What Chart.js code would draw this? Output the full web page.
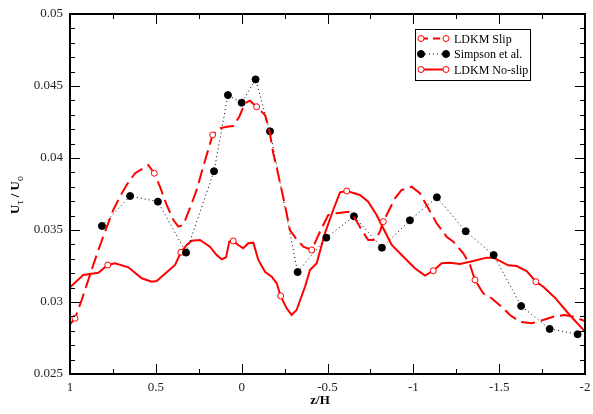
<!DOCTYPE html>
<html>
<head>
<meta charset="utf-8">
<script src="https://cdn.jsdelivr.net/npm/chart.js@4.4.1/dist/chart.umd.min.js"></script>
<style>
  html, body { margin: 0; padding: 0; background: #fff; }
  #wrap { width: 593px; height: 414px; }
</style>
</head>
<body>
<div id="wrap"><canvas id="chart" width="593" height="414"></canvas></div>
<script>
// LDKM slip wall model (dashed)
const slipZ = [1.0, 0.971, 0.932, 0.874, 0.835, 0.796, 0.748, 0.709, 0.670, 0.621, 0.544, 0.509, 0.476, 0.437, 0.398, 0.369, 0.340, 0.301, 0.262, 0.224, 0.195, 0.169, 0.126, 0.087, 0.049, 0.014, -0.019, -0.048, -0.087, -0.136, -0.161, -0.184, -0.207, -0.233, -0.262, -0.281, -0.316, -0.359, -0.408, -0.456, -0.504, -0.553, -0.621, -0.660, -0.699, -0.737, -0.776, -0.805, -0.825, -0.854, -0.893, -0.932, -0.990, -1.038, -1.087, -1.136, -1.194, -1.233, -1.291, -1.330, -1.359, -1.407, -1.456, -1.514, -1.563, -1.621, -1.689, -1.737, -1.815, -1.883, -1.931, -2.0];
const slipU = [0.02845, 0.02887, 0.03014, 0.03222, 0.03361, 0.03488, 0.03639, 0.03731, 0.03813, 0.03894, 0.03951, 0.03894, 0.03801, 0.03674, 0.03569, 0.03523, 0.03535, 0.03653, 0.03778, 0.03940, 0.04056, 0.04160, 0.04206, 0.04217, 0.04222, 0.04287, 0.04380, 0.04398, 0.04356, 0.04299, 0.04194, 0.04033, 0.03917, 0.03778, 0.03616, 0.03500, 0.03442, 0.03384, 0.03361, 0.03488, 0.03604, 0.03616, 0.03627, 0.03581, 0.03500, 0.03431, 0.03431, 0.03488, 0.03558, 0.03627, 0.03720, 0.03778, 0.03801, 0.03755, 0.03651, 0.03547, 0.03453, 0.03419, 0.03338, 0.03257, 0.03153, 0.03060, 0.03026, 0.02967, 0.02910, 0.02863, 0.02852, 0.02868, 0.02898, 0.02910, 0.02898, 0.02868];
const slipMarkZ = [0.971, 0.509, 0.169, -0.087, -0.408, -0.825, -1.359];

// Simpson et al. experiment
const simpsonZ = [0.814, 0.650, 0.488, 0.324, 0.161, 0.080, 0.0, -0.081, -0.165, -0.326, -0.493, -0.654, -0.817, -0.980, -1.137, -1.305, -1.468, -1.628, -1.794, -1.957];
const simpsonU = [0.03528, 0.03736, 0.03697, 0.03343, 0.03908, 0.04437, 0.04384, 0.04546, 0.04185, 0.03208, 0.03447, 0.03595, 0.03377, 0.03567, 0.03727, 0.03491, 0.03326, 0.02972, 0.02813, 0.02776];

// LDKM no-slip wall model (solid)
const noSlipZ = [1.0, 0.923, 0.835, 0.780, 0.738, 0.660, 0.582, 0.524, 0.495, 0.388, 0.354, 0.320, 0.291, 0.243, 0.185, 0.146, 0.116, 0.091, 0.072, 0.049, 0.020, -0.009, -0.038, -0.068, -0.097, -0.136, -0.175, -0.204, -0.227, -0.262, -0.291, -0.320, -0.369, -0.398, -0.437, -0.485, -0.533, -0.573, -0.612, -0.689, -0.737, -0.786, -0.835, -0.874, -0.961, -1.009, -1.068, -1.116, -1.165, -1.213, -1.271, -1.349, -1.427, -1.465, -1.504, -1.553, -1.602, -1.660, -1.714, -1.757, -1.825, -1.902, -2.0];
const noSlipU = [0.03102, 0.03188, 0.03203, 0.03257, 0.03269, 0.03241, 0.03165, 0.03141, 0.03146, 0.03257, 0.03345, 0.03396, 0.03426, 0.03431, 0.03384, 0.03326, 0.03297, 0.03310, 0.03419, 0.03424, 0.03396, 0.03373, 0.03408, 0.03412, 0.03292, 0.03210, 0.03176, 0.03130, 0.03042, 0.02956, 0.02910, 0.02944, 0.03106, 0.03222, 0.03269, 0.03477, 0.03639, 0.03762, 0.03771, 0.03743, 0.03697, 0.03604, 0.03488, 0.03396, 0.03292, 0.03234, 0.03183, 0.03217, 0.03269, 0.03273, 0.03264, 0.03285, 0.03308, 0.03308, 0.03285, 0.03255, 0.03250, 0.03215, 0.03141, 0.03106, 0.03030, 0.02922, 0.02794];
const noSlipMarkZ = [0.780, 0.354, 0.049, -0.227, -0.612, -1.116, -1.714];

const xTicks = [1, 0.5, 0, -0.5, -1, -1.5, -2];
const yTicks = [0.025, 0.03, 0.035, 0.04, 0.045, 0.05];

const RED = '#ff0000';
const SERIF = '"Liberation Serif", "DejaVu Serif", serif';

function toPoints(xs, ys) {
    return xs.map((x, i) => ({ x: x, y: ys[i] }));
}

function markRadius(marks, r) {
    return function(ctx) {
        const p = ctx.raw;
        return p && marks.includes(p.x) ? r : 0;
    };
}

// frame, inward ticks (major + minor) on all four sides, axis titles and legend box
const decorPlugin = {
    id: 'decor',
    afterDraw(chart) {
        const ctx = chart.ctx;
        const a = chart.chartArea;
        const xs = chart.scales.x, ys = chart.scales.y;
        ctx.save();
        ctx.strokeStyle = '#000';
        ctx.lineWidth = 1;
        ctx.setLineDash([]);

        for (let i = 0; i <= 12; i++) {
            const v = -2 + i * 0.25;
            const px = Math.round(xs.getPixelForValue(v)) + 0.5;
            const len = (i % 2 === 0) ? 10 : 5;
            ctx.beginPath();
            ctx.moveTo(px, a.bottom); ctx.lineTo(px, a.bottom - len);
            ctx.moveTo(px, a.top); ctx.lineTo(px, a.top + len);
            ctx.stroke();
        }
        for (let i = 0; i <= 25; i++) {
            const v = 0.025 + i * 0.001;
            const py = Math.round(ys.getPixelForValue(v)) + 0.5;
            const len = (i % 5 === 0) ? 10 : 5;
            ctx.beginPath();
            ctx.moveTo(a.left, py); ctx.lineTo(a.left + len, py);
            ctx.moveTo(a.right, py); ctx.lineTo(a.right - len, py);
            ctx.stroke();
        }

        ctx.lineWidth = 2;
        ctx.strokeRect(a.left, a.top, a.right - a.left, a.bottom - a.top);

        // x title
        ctx.fillStyle = '#000';
        ctx.font = 'bold 13px ' + SERIF;
        ctx.textAlign = 'center';
        ctx.textBaseline = 'alphabetic';
        ctx.fillText('z/H', 320, 404);

        // y title: U_tau / U_o, rotated
        ctx.save();
        ctx.translate(19, 214);
        ctx.rotate(-Math.PI / 2);
        ctx.textAlign = 'left';
        let cx = 0;
        const parts = [['U', 'bold 13px', 0], ['\u03c4', '10px', 4], [' / ', 'bold 13px', 0], ['U', 'bold 13px', 0], ['o', '10px', 4]];
        parts.forEach(p => {
            ctx.font = p[1] + ' ' + SERIF;
            ctx.fillText(p[0], cx, p[2]);
            cx += ctx.measureText(p[0]).width;
        });
        ctx.restore();

        // legend
        const bx = 415.5, by = 29.5, bw = 115, bh = 51;
        ctx.lineWidth = 1;
        ctx.strokeStyle = '#000';
        ctx.fillStyle = '#fff';
        ctx.fillRect(bx, by, bw, bh);
        ctx.strokeRect(bx, by, bw, bh);
        const rows = [38.5, 54, 69.5];
        chart.data.datasets.forEach((ds, i) => {
            const y = rows[i];
            const x0 = 421, x1 = 446;
            ctx.save();
            ctx.strokeStyle = ds.borderColor;
            ctx.lineWidth = ds.borderWidth;
            ctx.setLineDash(ds.legendDash || []);
            ctx.beginPath();
            ctx.moveTo(x0, y); ctx.lineTo(x1, y);
            ctx.stroke();
            ctx.setLineDash([]);
            ctx.lineWidth = 1;
            [x0, x1].forEach(x => {
                ctx.beginPath();
                ctx.arc(x, y, ds.legendRadius, 0, Math.PI * 2);
                ctx.fillStyle = ds.pointBackgroundColor;
                ctx.fill();
                ctx.strokeStyle = ds.pointBorderColor;
                ctx.stroke();
            });
            ctx.restore();
            ctx.fillStyle = '#000';
            ctx.font = '12px ' + SERIF;
            ctx.textAlign = 'left';
            ctx.textBaseline = 'middle';
            ctx.fillText(ds.label, 454, y + 1);
        });
        ctx.restore();
    }
};

new Chart(document.getElementById('chart').getContext('2d'), {
    type: 'line',
    data: {
        datasets: [
            {
                label: 'LDKM Slip',
                data: toPoints(slipZ, slipU),
                borderColor: RED,
                borderWidth: 2,
                borderDash: [14, 6],
                legendDash: [7, 5],
                pointRadius: markRadius(slipMarkZ, 3),
                pointHoverRadius: 0,
                pointBackgroundColor: '#fff',
                pointBorderColor: RED,
                pointBorderWidth: 1,
                legendRadius: 3,
                tension: 0
            },
            {
                label: 'Simpson et al.',
                data: toPoints(simpsonZ, simpsonU),
                borderColor: '#000',
                borderWidth: 1,
                borderDash: [1, 3],
                legendDash: [1, 3],
                pointRadius: 3.5,
                pointHoverRadius: 0,
                pointBackgroundColor: '#000',
                pointBorderColor: '#000',
                legendRadius: 3.5,
                tension: 0
            },
            {
                label: 'LDKM No-slip',
                data: toPoints(noSlipZ, noSlipU),
                borderColor: RED,
                borderWidth: 2,
                pointRadius: markRadius(noSlipMarkZ, 3),
                pointHoverRadius: 0,
                pointBackgroundColor: '#fff',
                pointBorderColor: RED,
                pointBorderWidth: 1,
                legendRadius: 3,
                tension: 0
            }
        ]
    },
    options: {
        responsive: false,
        animation: false,
        layout: { padding: { top: 14, right: 8, left: 0, bottom: 0 } },
        plugins: {
            legend: { display: false },
            tooltip: { enabled: false }
        },
        scales: {
            x: {
                type: 'linear',
                reverse: true,
                min: -2,
                max: 1,
                grid: { display: false, drawTicks: false },
                border: { display: false },
                afterBuildTicks: s => { s.ticks = xTicks.map(v => ({ value: v })); },
                afterFit: s => { s.height = 40; s.paddingRight = 0; s.paddingLeft = 0; },
                ticks: {
                    padding: 6,
                    color: '#222',
                    font: { family: SERIF, size: 13 },
                    maxRotation: 0,
                    callback: v => String(parseFloat(v.toFixed(2)))
                }
            },
            y: {
                min: 0.025,
                max: 0.05,
                grid: { display: false, drawTicks: false },
                border: { display: false },
                afterBuildTicks: s => { s.ticks = yTicks.map(v => ({ value: v })); },
                afterFit: s => { s.width = 70; s.paddingTop = 0; s.paddingBottom = 0; },
                ticks: {
                    padding: 7,
                    color: '#222',
                    font: { family: SERIF, size: 13 },
                    callback: v => String(parseFloat(v.toFixed(3)))
                }
            }
        }
    },
    plugins: [decorPlugin]
});
</script>
</body>
</html>
